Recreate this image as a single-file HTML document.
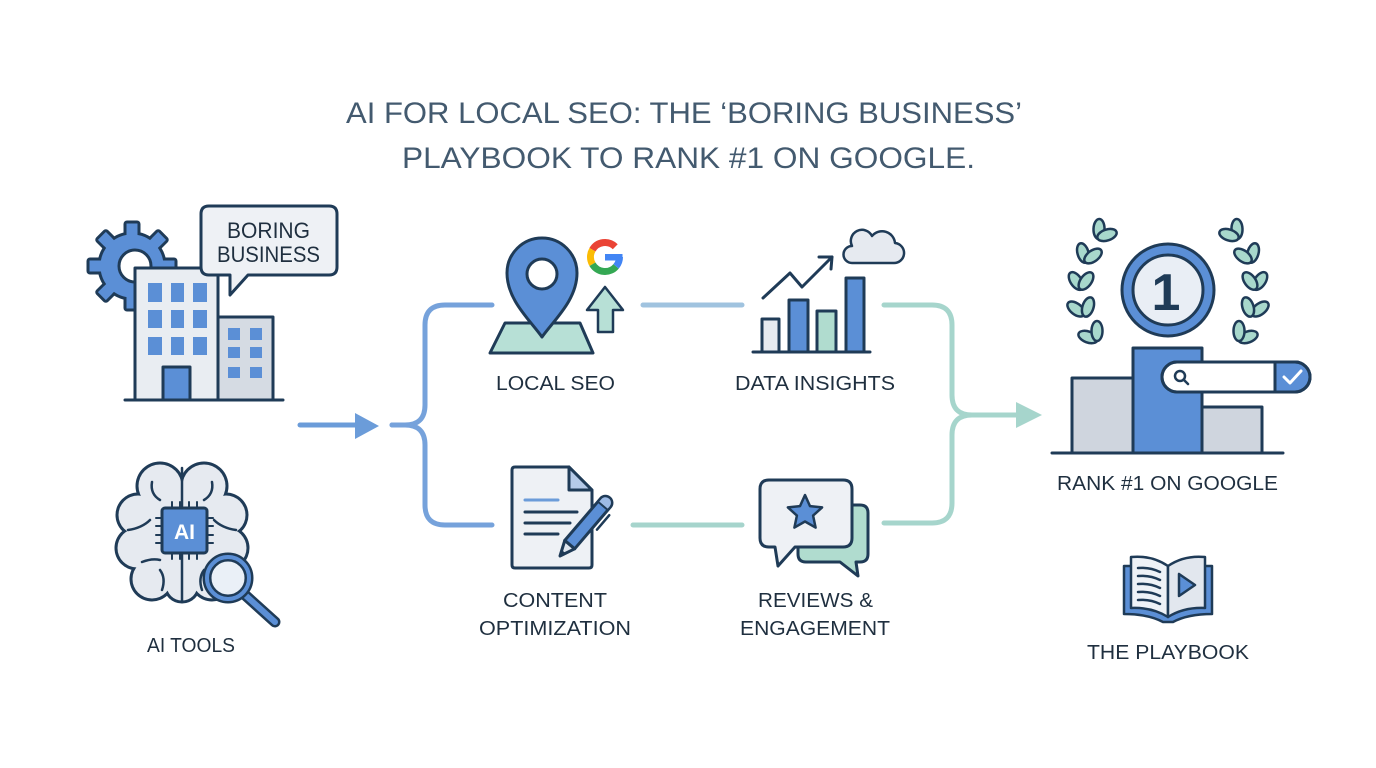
<!DOCTYPE html>
<html>
<head>
<meta charset="utf-8">
<style>
  html,body{margin:0;padding:0;background:#ffffff;}
  svg{display:block;}
  .lbl{font-family:"Liberation Sans",sans-serif;font-size:20px;fill:#1f2f3f;}
  .ttl{font-family:"Liberation Sans",sans-serif;font-size:30px;fill:#435a6f;}
</style>
</head>
<body>
<svg width="1376" height="768" viewBox="0 0 1376 768" xmlns="http://www.w3.org/2000/svg">
  <rect width="1376" height="768" fill="#ffffff"/>

  <!-- Title -->
  <text class="ttl" x="346" y="123" textLength="676" lengthAdjust="spacingAndGlyphs">AI FOR LOCAL SEO: THE ‘BORING BUSINESS’</text>
  <text class="ttl" x="402" y="168" textLength="573" lengthAdjust="spacingAndGlyphs">PLAYBOOK TO RANK #1 ON GOOGLE.</text>

  <g stroke="#1f3b57" stroke-width="3" stroke-linejoin="round" stroke-linecap="round">

    <!-- ===== Gear ===== -->
    <g transform="translate(132,266)">
      <g fill="#5b8fd6">
        <rect x="-7" y="-44" width="14" height="16" rx="2" transform="rotate(0)"/>
        <rect x="-7" y="-44" width="14" height="16" rx="2" transform="rotate(45)"/>
        <rect x="-7" y="-44" width="14" height="16" rx="2" transform="rotate(90)"/>
        <rect x="-7" y="-44" width="14" height="16" rx="2" transform="rotate(135)"/>
        <rect x="-7" y="-44" width="14" height="16" rx="2" transform="rotate(180)"/>
        <rect x="-7" y="-44" width="14" height="16" rx="2" transform="rotate(225)"/>
        <rect x="-7" y="-44" width="14" height="16" rx="2" transform="rotate(270)"/>
        <rect x="-7" y="-44" width="14" height="16" rx="2" transform="rotate(315)"/>
      </g>
      <circle r="33" fill="#5b8fd6"/>
      <g fill="#5b8fd6" stroke="none">
        <rect x="-5.5" y="-42.5" width="11" height="16" transform="rotate(0)"/>
        <rect x="-5.5" y="-42.5" width="11" height="16" transform="rotate(45)"/>
        <rect x="-5.5" y="-42.5" width="11" height="16" transform="rotate(90)"/>
        <rect x="-5.5" y="-42.5" width="11" height="16" transform="rotate(135)"/>
        <rect x="-5.5" y="-42.5" width="11" height="16" transform="rotate(180)"/>
        <rect x="-5.5" y="-42.5" width="11" height="16" transform="rotate(225)"/>
        <rect x="-5.5" y="-42.5" width="11" height="16" transform="rotate(270)"/>
        <rect x="-5.5" y="-42.5" width="11" height="16" transform="rotate(315)"/>
      </g>
      <circle cx="3" cy="0" r="16" fill="#ffffff"/>
    </g>

    <!-- ===== Buildings ===== -->
    <rect x="135" y="268" width="83" height="132" fill="#e9edf2"/>
    <rect x="218" y="317" width="55" height="83" fill="#d5dbe3"/>
    <g fill="#5b8fd6" stroke="none">
      <rect x="148" y="283" width="14" height="19"/><rect x="171" y="283" width="13" height="19"/><rect x="193" y="283" width="14" height="19"/>
      <rect x="148" y="310" width="14" height="18"/><rect x="171" y="310" width="13" height="18"/><rect x="193" y="310" width="14" height="18"/>
      <rect x="148" y="337" width="14" height="18"/><rect x="171" y="337" width="13" height="18"/><rect x="193" y="337" width="14" height="18"/>
      <rect x="228" y="328" width="12" height="12"/><rect x="250" y="328" width="12" height="12"/>
      <rect x="228" y="347" width="12" height="11"/><rect x="250" y="347" width="12" height="11"/>
      <rect x="228" y="367" width="12" height="11"/><rect x="250" y="367" width="12" height="11"/>
    </g>
    <rect x="163" y="367" width="27" height="33" fill="#5b8fd6"/>
    <line x1="125" y1="400" x2="283" y2="400"/>

    <!-- Speech bubble -->
    <path d="M209,206 H329 Q337,206 337,214 V267 Q337,275 329,275 H248 L230,295 L230,275 H209 Q201,275 201,267 V214 Q201,206 209,206 Z" fill="#eef1f5"/>
  </g>
  <text class="lbl" x="227" y="238" textLength="83" lengthAdjust="spacingAndGlyphs" style="font-size:22px">BORING</text>
  <text class="lbl" x="217" y="262" textLength="103" lengthAdjust="spacingAndGlyphs" style="font-size:22px">BUSINESS</text>

  <!-- ===== AI Tools brain ===== -->
  <g>
    <g fill="#1f3b57">
      <circle cx="160" cy="486" r="24.5"/><circle cx="204" cy="486" r="24.5"/>
      <circle cx="138" cy="515" r="22.5"/><circle cx="226" cy="515" r="22.5"/>
      <circle cx="137" cy="548" r="22.5"/><circle cx="227" cy="548" r="22.5"/>
      <circle cx="152" cy="579" r="22.5"/><circle cx="212" cy="579" r="22.5"/>
      <circle cx="182" cy="585" r="18.5"/>
    </g>
    <g fill="#e6eaf0">
      <circle cx="160" cy="486" r="21.5"/><circle cx="204" cy="486" r="21.5"/>
      <circle cx="138" cy="515" r="19.5"/><circle cx="226" cy="515" r="19.5"/>
      <circle cx="137" cy="548" r="19.5"/><circle cx="227" cy="548" r="19.5"/>
      <circle cx="152" cy="579" r="19.5"/><circle cx="212" cy="579" r="19.5"/>
      <circle cx="182" cy="585" r="15.5"/>
      <circle cx="182" cy="532" r="50"/>
    </g>
    <g fill="none" stroke="#1f3b57" stroke-width="2.5" stroke-linecap="round">
      <path d="M182,468 V506"/>
      <path d="M182,555 V600"/>
      <path d="M160,500 Q150,494 152,482"/>
      <path d="M204,500 Q214,494 212,482"/>
      <path d="M128,530 Q142,528 150,520"/>
      <path d="M236,530 Q222,528 214,520"/>
      <path d="M142,562 Q152,558 160,560"/>
      <path d="M162,590 Q166,578 160,570"/>
      <path d="M202,590 Q198,578 204,570"/>
    </g>
    <!-- chip pins -->
    <g stroke="#1f3b57" stroke-width="2" stroke-linecap="round">
      <line x1="172" y1="502" x2="172" y2="508"/><line x1="180" y1="502" x2="180" y2="508"/><line x1="189" y1="502" x2="189" y2="508"/><line x1="197" y1="502" x2="197" y2="508"/>
      <line x1="172" y1="553" x2="172" y2="559"/><line x1="180" y1="553" x2="180" y2="559"/><line x1="189" y1="553" x2="189" y2="559"/><line x1="197" y1="553" x2="197" y2="559"/>
      <line x1="156" y1="518" x2="162" y2="518"/><line x1="156" y1="526" x2="162" y2="526"/><line x1="156" y1="535" x2="162" y2="535"/><line x1="156" y1="543" x2="162" y2="543"/>
      <line x1="207" y1="518" x2="213" y2="518"/><line x1="207" y1="526" x2="213" y2="526"/><line x1="207" y1="535" x2="213" y2="535"/><line x1="207" y1="543" x2="213" y2="543"/>
    </g>
    <rect x="162" y="508" width="45" height="45" rx="3" fill="#5b8fd6" stroke="#1f3b57" stroke-width="3"/>
    <text x="184.5" y="539" text-anchor="middle" font-family="Liberation Sans, sans-serif" font-weight="bold" font-size="21" fill="#ffffff">AI</text>
    <!-- magnifier -->
    <line x1="244" y1="594" x2="275" y2="622" stroke="#1f3b57" stroke-width="11" stroke-linecap="round"/>
    <line x1="244" y1="594" x2="275" y2="622" stroke="#5b8fd6" stroke-width="6" stroke-linecap="round"/>
    <circle cx="228" cy="578" r="21" fill="#eaf0f7" stroke="#1f3b57" stroke-width="9"/>
    <circle cx="228" cy="578" r="21" fill="none" stroke="#5b8fd6" stroke-width="4"/>
  </g>
  <text class="lbl" x="147" y="652" textLength="88" lengthAdjust="spacingAndGlyphs">AI TOOLS</text>

  <!-- ===== Connectors ===== -->
  <g fill="none" stroke-linecap="round" stroke-width="5">
    <line x1="300" y1="425" x2="358" y2="425" stroke="#6b9cd9"/>
    <path d="M492,305 H445 Q425,305 425,325 V405 Q425,425 405,425 H392" stroke="#76a2db"/>
    <path d="M392,425 H405 Q425,425 425,445 V505 Q425,525 445,525 H492" stroke="#76a2db"/>
    <line x1="643" y1="305" x2="742" y2="305" stroke="#a0c3df"/>
    <line x1="633" y1="525" x2="742" y2="525" stroke="#a6d4cc"/>
    <path d="M884,305 H932 Q952,305 952,325 V395 Q952,415 972,415 H1018" stroke="#a6d5cc"/>
    <path d="M884,523 H932 Q952,523 952,503 V435 Q952,415 972,415" stroke="#a6d5cc"/>
  </g>
  <polygon points="355,413 379,426 355,439" fill="#6b9cd9"/>
  <polygon points="1016,402 1042,415 1016,428" fill="#a6d5cc"/>

  <!-- ===== Local SEO icon ===== -->
  <g stroke="#1f3b57" stroke-width="3" stroke-linejoin="round" stroke-linecap="round">
    <polygon points="505,323 580,323 593,353 490,353" fill="#b7e0d6"/>
    <path d="M542,337 C530,320 507,300 507,273 A35,35 0 1 1 577,273 C577,300 554,320 542,337 Z" fill="#5b8fd6"/>
    <circle cx="542" cy="274" r="15" fill="#ffffff"/>
    <polygon points="605,287 623,310 613,310 613,332 598,332 598,310 587,310" fill="#b7e0d6" stroke-width="2.5"/>
  </g>
  <g fill="none" stroke-width="7">
    <path d="M615.25,246.75 A14.5,14.5 0 0 0 592.44,249.75" stroke="#ea4335"/>
    <path d="M592.44,249.75 A14.5,14.5 0 0 0 592.44,264.25" stroke="#fbbc05"/>
    <path d="M592.44,264.25 A14.5,14.5 0 0 0 616.11,266.32" stroke="#34a853"/>
    <path d="M616.11,266.32 A14.5,14.5 0 0 0 619.5,257" stroke="#4285f4"/>
  </g>
  <rect x="605" y="254" width="17.5" height="6.5" fill="#4285f4"/>
  <text class="lbl" x="496" y="390" textLength="119" lengthAdjust="spacingAndGlyphs">LOCAL SEO</text>

  <!-- ===== Data Insights icon ===== -->
  <g stroke="#1f3b57" stroke-width="3" stroke-linejoin="round" stroke-linecap="round">
    <rect x="762" y="319" width="17" height="33" fill="#e6eaf0"/>
    <rect x="789" y="300" width="19" height="52" fill="#5b8fd6"/>
    <rect x="817" y="311" width="19" height="41" fill="#b0dccf"/>
    <rect x="846" y="278" width="18" height="74" fill="#5b8fd6"/>
    <line x1="753" y1="352" x2="870" y2="352"/>
    <polyline points="763,298 790,273 802,287 832,257" fill="none"/>
    <polyline points="819,257 832,257 831,269" fill="none"/>
    <path d="M852,263 H893 A10,10 0 0 0 895,243 A13,13 0 0 0 872,236 A11,11 0 0 0 852,246 A8.5,8.5 0 0 0 852,263 Z" fill="#e6eaf0" stroke-width="2.5"/>
  </g>
  <text class="lbl" x="735" y="390" textLength="160" lengthAdjust="spacingAndGlyphs">DATA INSIGHTS</text>

  <!-- ===== Content Optimization icon ===== -->
  <g stroke="#1f3b57" stroke-width="3" stroke-linejoin="round" stroke-linecap="round">
    <path d="M515,467 H569 L592,490 V565 Q592,568 589,568 H515 Q512,568 512,565 V470 Q512,467 515,467 Z" fill="#eef1f5"/>
    <path d="M569,467 V490 H592 Z" fill="#b5cae8"/>
    <line x1="525" y1="500" x2="558" y2="500" stroke="#6b9cd9"/>
    <line x1="525" y1="512" x2="577" y2="512"/>
    <line x1="525" y1="523" x2="570" y2="523"/>
    <line x1="525" y1="534" x2="558" y2="534"/>
    <g transform="translate(560,556) rotate(-49.5)">
      <polygon points="0,0 15,-6.5 15,6.5" fill="#dfe6ef"/>
      <polygon points="0,0 5,-2.2 5,2.2" fill="#1f3b57" stroke-width="1.5"/>
      <path d="M15,-6.5 H70 A6.5,6.5 0 0 1 70,6.5 H15 Z" fill="#5b8fd6"/>
      <path d="M66,-6.5 H70 A6.5,6.5 0 0 1 70,6.5 H66 Z" fill="#9dbbe6" stroke-width="2"/>
      <line x1="44" y1="11" x2="63" y2="11" stroke-width="2.5"/>
    </g>
  </g>
  <text class="lbl" x="503" y="607" textLength="104" lengthAdjust="spacingAndGlyphs">CONTENT</text>
  <text class="lbl" x="479" y="635" textLength="152" lengthAdjust="spacingAndGlyphs">OPTIMIZATION</text>

  <!-- ===== Reviews icon ===== -->
  <g stroke="#1f3b57" stroke-width="3" stroke-linejoin="round" stroke-linecap="round">
    <path d="M806,505 H860 Q868,505 868,513 V554 Q868,562 860,562 H856 L858,576 L840,562 H806 Q798,562 798,554 V513 Q798,505 806,505 Z" fill="#b0dccf"/>
    <path d="M769,480 H843 Q852,480 852,489 V538 Q852,547 843,547 H795 L778,566 L775,547 H769 Q760,547 760,538 V489 Q760,480 769,480 Z" fill="#eef1f5"/>
    <polygon points="805,495 810,506.1 822.1,507.4 813.1,515.6 815.6,527.6 805,521.5 794.4,527.6 796.9,515.6 787.9,507.4 800,506.1" fill="#5b8fd6" stroke-width="2.5"/>
  </g>
  <text class="lbl" x="758" y="607" textLength="115" lengthAdjust="spacingAndGlyphs">REVIEWS &amp;</text>
  <text class="lbl" x="740" y="635" textLength="150" lengthAdjust="spacingAndGlyphs">ENGAGEMENT</text>

  <!-- ===== Rank #1 icon ===== -->
  <g stroke="#1f3b57" stroke-width="2.5" fill="#a8d8cc">
    <g id="laurel">
      <ellipse rx="10" ry="5.5" transform="translate(1088,337) rotate(200)"/>
      <ellipse rx="10" ry="5.5" transform="translate(1097,331) rotate(270)"/>
      <ellipse rx="10" ry="5.5" transform="translate(1076,309) rotate(218)"/>
      <ellipse rx="10" ry="5.5" transform="translate(1088,307) rotate(288)"/>
      <ellipse rx="10" ry="5.5" transform="translate(1076,281) rotate(236)"/>
      <ellipse rx="10" ry="5.5" transform="translate(1086,281) rotate(306)"/>
      <ellipse rx="10" ry="5.5" transform="translate(1083,253) rotate(254)"/>
      <ellipse rx="10" ry="5.5" transform="translate(1093,256) rotate(324)"/>
      <ellipse rx="10" ry="5.5" transform="translate(1099,229) rotate(272)"/>
      <ellipse rx="10" ry="5.5" transform="translate(1107,235) rotate(342)"/>
    </g>
    <g transform="translate(2336,0) scale(-1,1)">
      <ellipse rx="10" ry="5.5" transform="translate(1088,337) rotate(200)"/>
      <ellipse rx="10" ry="5.5" transform="translate(1097,331) rotate(270)"/>
      <ellipse rx="10" ry="5.5" transform="translate(1076,309) rotate(218)"/>
      <ellipse rx="10" ry="5.5" transform="translate(1088,307) rotate(288)"/>
      <ellipse rx="10" ry="5.5" transform="translate(1076,281) rotate(236)"/>
      <ellipse rx="10" ry="5.5" transform="translate(1086,281) rotate(306)"/>
      <ellipse rx="10" ry="5.5" transform="translate(1083,253) rotate(254)"/>
      <ellipse rx="10" ry="5.5" transform="translate(1093,256) rotate(324)"/>
      <ellipse rx="10" ry="5.5" transform="translate(1099,229) rotate(272)"/>
      <ellipse rx="10" ry="5.5" transform="translate(1107,235) rotate(342)"/>
    </g>
  </g>
  <g stroke="#1f3b57" stroke-width="3" stroke-linejoin="round" stroke-linecap="round">
    <circle cx="1168" cy="290" r="46" fill="#5b8fd6"/>
    <circle cx="1168" cy="290" r="35" fill="#e9eef5"/>
  </g>
  <text x="1166" y="310" text-anchor="middle" font-family="Liberation Sans, sans-serif" font-weight="bold" font-size="52" fill="#1f3b57">1</text>
  <g stroke="#1f3b57" stroke-width="3" stroke-linejoin="round" stroke-linecap="round">
    <rect x="1072" y="378" width="61" height="75" fill="#cfd5de"/>
    <rect x="1202" y="407" width="60" height="46" fill="#cfd5de"/>
    <rect x="1133" y="348" width="69" height="105" fill="#5b8fd6"/>
    <line x1="1052" y1="453" x2="1283" y2="453"/>
    <rect x="1162" y="362" width="148" height="30" rx="15" fill="#ffffff"/>
    <path d="M1275,362 H1295 A15,15 0 0 1 1295,392 H1275 Z" fill="#5b8fd6"/>
    <rect x="1162" y="362" width="148" height="30" rx="15" fill="none"/>
    <polyline points="1284,377 1290,383 1301,371" fill="none" stroke="#ffffff" stroke-width="3"/>
    <circle cx="1180" cy="376" r="5" fill="none" stroke-width="2.5"/>
    <line x1="1184" y1="380" x2="1188" y2="384" stroke-width="2.5"/>
  </g>
  <text class="lbl" x="1057" y="490" textLength="221" lengthAdjust="spacingAndGlyphs">RANK #1 ON GOOGLE</text>

  <!-- ===== Playbook ===== -->
  <g stroke="#1f3b57" stroke-width="2.5" stroke-linejoin="round" stroke-linecap="round">
    <path d="M1124,566 V614 Q1148,614 1163,622 H1173 Q1188,614 1212,614 V566 Z" fill="#5b8fd6"/>
    <path d="M1168,566 Q1152,555 1131,557 V608 Q1152,607 1168,617 Z" fill="#eef2f7"/>
    <path d="M1168,566 Q1184,555 1205,557 V608 Q1184,607 1168,617 Z" fill="#e2e7ee"/>
    <g fill="none">
      <path d="M1138,568 Q1150,567 1160,572"/>
      <path d="M1138,576 Q1150,575 1160,580"/>
      <path d="M1138,584 Q1150,583 1160,588"/>
      <path d="M1138,592 Q1150,591 1160,596"/>
      <path d="M1138,600 Q1150,599 1160,604"/>
    </g>
    <polygon points="1179,574 1179,596 1195,585" fill="#5b8fd6"/>
  </g>
  <text class="lbl" x="1087" y="659" textLength="162" lengthAdjust="spacingAndGlyphs">THE PLAYBOOK</text>
</svg>
</body>
</html>
